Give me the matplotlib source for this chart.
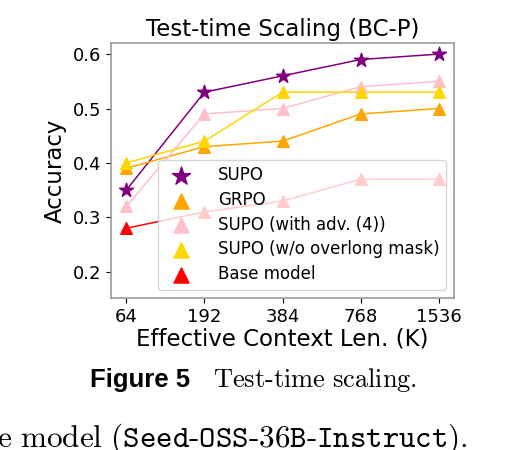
import matplotlib
matplotlib.use("Agg")
import matplotlib.pyplot as plt

# Datos
ctx_labels = ["64", "192", "384", "768", "1536"]
supo = [0.35, 0.53, 0.56, 0.59, 0.60]
grpo = [0.39, 0.43, 0.44, 0.49, 0.50]
supo_adv4 = [0.32, 0.49, 0.50, 0.54, 0.55]
supo_no_mask = [0.40, 0.44, 0.53, 0.53, 0.53]
base_model = [0.28, 0.31, 0.33, 0.37, 0.37]

series = [
    ("SUPO", supo, "purple", "*", 110),
    ("GRPO", grpo, "orange", "^", 70),
    ("SUPO (with adv. (4))", supo_adv4, "pink", "^", 70),
    ("SUPO (w/o overlong mask)", supo_no_mask, "gold", "^", 70),
    ("Base model", base_model, "red", "^", 70),
]

fig = plt.figure(figsize=(5.1, 4.5), dpi=100)
ax = fig.add_axes([0.217, 0.338, 0.674, 0.566])

x = list(range(len(ctx_labels)))
for name, vals, color, marker, size in series:
    ax.plot(x, vals, color=color, linewidth=1.1, zorder=2)
    ax.scatter(x, vals, color=color, marker=marker, s=size, label=name, zorder=3)

ax.set_xticks(x)
ax.set_xticklabels(ctx_labels)
ax.set_xlim(-0.2, 4.2)
ax.set_ylim(0.152, 0.62)
ax.set_yticks([0.2, 0.3, 0.4, 0.5, 0.6])
ax.tick_params(labelsize=13)
for sp in ax.spines.values():
    sp.set_color("#999999")
    sp.set_linewidth(1.2)

ax.set_title("Test-time Scaling (BC-P)", fontsize=16.5, pad=5)
ax.set_xlabel("Effective Context Len. (K)", fontsize=16.5, labelpad=1)
ax.set_ylabel("Accuracy", fontsize=16.5)
ax.legend(loc="lower right", fontsize=12, handletextpad=1.2,
          labelspacing=0.4, markerscale=1.3)

# Pie de figura del articulo
fig.text(0.176, 0.141, "Figure 5", fontsize=18.5, fontweight="bold",
         family="Liberation Sans", va="baseline")
fig.text(0.418, 0.141, r"$\mathrm{Test\text{-}time\ scaling.}$",
         fontsize=19, math_fontfamily="cm", va="baseline")

fig.text(-0.006, 0.008,
         r"$\mathrm{e\ model\ (}\mathtt{Seed\text{-}OSS\text{-}36B\text{-}Instruct}\mathrm{).}$",
         fontsize=22.5, math_fontfamily="cm", va="baseline")

fig.savefig("out.png", dpi=100)
